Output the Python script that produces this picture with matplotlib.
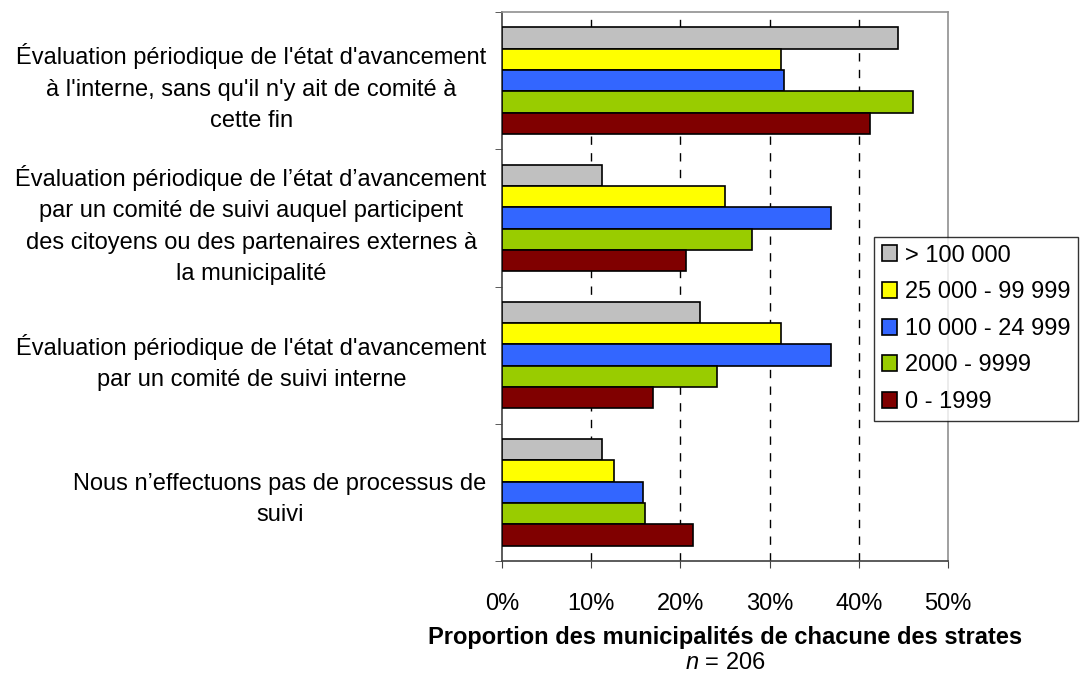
import numpy as np
import matplotlib.pyplot as plt

plt.rcParams["font.family"] = ["Liberation Sans", "DejaVu Sans"]
plt.rcParams["mathtext.fontset"] = "custom"
plt.rcParams["mathtext.it"] = "Liberation Sans:italic"
plt.rcParams["mathtext.rm"] = "Liberation Sans"

categories = [
    "Évaluation périodique de l'état d'avancement\nà l'interne, sans qu'il n'y ait de comité à\ncette fin",
    "Évaluation périodique de l’état d’avancement\npar un comité de suivi auquel participent\ndes citoyens ou des partenaires externes à\nla municipalité",
    "Évaluation périodique de l'état d'avancement\npar un comité de suivi interne",
    "Nous n’effectuons pas de processus de\nsuivi",
]
strata = ["> 100 000", "25 000 - 99 999", "10 000 - 24 999", "2000 - 9999", "0 - 1999"]
values = {
    "> 100 000": [44.4, 11.2, 22.2, 11.2],
    "25 000 - 99 999": [31.3, 25.0, 31.3, 12.5],
    "10 000 - 24 999": [31.6, 36.9, 36.9, 15.8],
    "2000 - 9999": [46.1, 28.0, 24.1, 16.0],
    "0 - 1999": [41.2, 20.6, 16.9, 21.4],
}
colors = ["#C0C0C0", "#FFFF00", "#3366FF", "#99CC00", "#800000"]
xticks = [0, 10, 20, 30, 40, 50]

fs = 17
fig = plt.figure(figsize=(10.87, 6.79), dpi=100)
ax = fig.add_axes([502 / 1087, 1 - 561 / 679, 446 / 1087, 549 / 679])

y = np.arange(len(categories))
h = 0.155
for i, name in enumerate(strata):
    ax.barh(y + (i - 2) * h, values[name], height=h, color=colors[i],
            edgecolor="black", linewidth=1.2, label=name, zorder=3)

ax.set_xlim(0, 50)
ax.set_ylim(len(categories) - 0.5, -0.5)
ax.set_xticks(xticks)
ax.set_xticklabels([f"{t}%" for t in xticks], fontsize=fs)
for t in xticks[1:-1]:
    ax.axvline(t, color="black", linestyle=(0, (6, 6)), linewidth=1, zorder=1)

ax.set_yticks(y)
ax.set_yticklabels(categories, fontsize=fs, multialignment="center", linespacing=1.55)
ax.set_yticks(np.arange(len(categories) + 1) - 0.5, minor=True)
ax.tick_params(axis="y", which="major", length=0, pad=11)
ax.tick_params(axis="y", which="minor", length=5, color="#404040")
ax.tick_params(axis="x", length=5, color="#404040", pad=18)

ax.spines["left"].set_color("#404040")
ax.spines["bottom"].set_color("#404040")
ax.spines["top"].set_color("#909090")
ax.spines["right"].set_color("#909090")
for s in ax.spines.values():
    s.set_linewidth(1.2)

ax.text(0.5, -0.139, "Proportion des municipalités de chacune des strates",
        transform=ax.transAxes, ha="center", va="center", fontsize=fs, fontweight="bold")
ax.text(0.5, -0.186, "$n$ = 206", transform=ax.transAxes, ha="center", va="center", fontsize=fs)

leg = fig.legend(loc="upper left", bbox_to_anchor=(874 / 1087, 1 - 237 / 679),
                 fontsize=fs, frameon=True, fancybox=False, borderaxespad=0,
                 handlelength=0.66, handleheight=0.66, handletextpad=0.35,
                 labelspacing=0.62, borderpad=0.32)
leg.get_frame().set_edgecolor("black")
leg.get_frame().set_linewidth(1)

fig.savefig("out.png", dpi=100)
